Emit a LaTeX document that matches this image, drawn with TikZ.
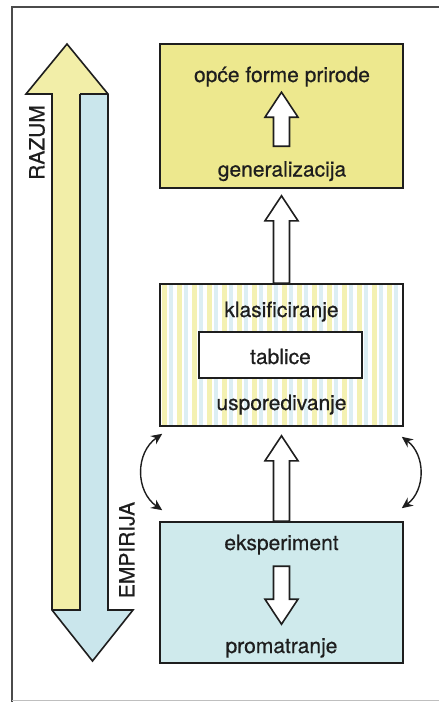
\documentclass[tikz,border=0pt]{standalone}
\usepackage{fontspec}
\setmainfont{TeX Gyre Heros}
\newfontfamily\lblfont{TeX Gyre Heros}[FakeBold=0.6]
\usetikzlibrary{calc,arrows.meta}
\definecolor{topY}{RGB}{237,232,142}
\definecolor{arrY}{RGB}{242,238,168}
\definecolor{colB}{RGB}{202,230,236}
\definecolor{botB}{RGB}{207,234,236}
\definecolor{strY}{RGB}{244,241,178}
\definecolor{strB}{RGB}{220,238,243}
\definecolor{ink}{RGB}{30,30,30}
\newcommand\blockarrow[2]{%
  \path (#1) coordinate (ba-b) (#2) coordinate (ba-t);
  \path ($(ba-t)!25pt!(ba-b)$) coordinate (ba-h);
  \draw[hollow] ($(ba-b)!8pt!90:(ba-t)$) -- ($(ba-h)!8pt!90:(ba-t)$)
    -- ($(ba-h)!16.5pt!90:(ba-t)$) -- (ba-t) -- ($(ba-h)!16.5pt!-90:(ba-t)$)
    -- ($(ba-h)!8pt!-90:(ba-t)$) -- ($(ba-b)!8pt!-90:(ba-t)$) -- cycle;}
\begin{document}
\begin{tikzpicture}[x=1pt,y=-1pt,
  box/.style={draw=ink,line width=1.6pt,minimum width=243pt,inner sep=0pt},
  lbl/.style={text=ink,font=\lblfont\fontsize{21}{24}\selectfont,inner sep=0pt},
  hollow/.style={draw=ink,fill=white,line width=1.6pt,line join=miter},
  bigarrow/.style={draw=ink,line width=1.6pt,line join=miter},
  dbl/.style={draw=ink,line width=1.4pt,{Stealth[length=11pt,width=10pt]}-{Stealth[length=11pt,width=10pt]}}]
\useasboundingbox (0,0) rectangle (439,702);
\fill[white] (0,0) rectangle (439,702);
% frame
\draw[line width=1.2pt,ink!80] (12,702) -- (12,7) -- (439,7);
\draw[line width=0.8pt,black!25] (12,700) -- (439,700);
% big left double arrow
\fill[arrY] (67,44) -- (108,94) -- (80,94) -- (80,610) -- (52,610) -- (52,94) -- (26,94) -- cycle;
\fill[colB] (80,94) -- (108,94) -- (108,610) -- (133,610) -- (92.5,661) -- (52,610) -- (80,610) -- cycle;
\draw[bigarrow] (67,44) -- (108,94) -- (108,610) -- (133,610) -- (92.5,661) -- (52,610) -- (52,94) -- (26,94) -- cycle;
\draw[bigarrow] (80,94) -- (80,610) -- (52,610);
\draw[bigarrow] (80,94) -- (108,94);
\node[lbl,rotate=90] (razum) at (37,142.5) {RAZUM};
\node[lbl,rotate=90] (empirija) at (127,550) {EMPIRIJA};
% boxes
\node[box,fill=topY,minimum height=144pt] (top) at (281.5,116) {};
\node[box,fill=white,minimum height=142pt,
  path picture={\foreach \i in {0,...,16}{
     \fill[strY] ([xshift=\i*15pt+2pt]path picture bounding box.north west) rectangle ++(5,150);
     \fill[strB] ([xshift=\i*15pt+9pt]path picture bounding box.north west) rectangle ++(4,150);}}]
  (mid) at (281.5,355) {};
\node[box,fill=botB,minimum height=141pt] (bot) at (281.5,592.5) {};
\node[draw=ink,line width=1.6pt,fill=white,minimum width=163pt,minimum height=46pt,inner sep=0pt] (tab) at (280.5,355) {};
% labels
\node[lbl,anchor=base] (opce) at (282,82) {opće forme prirode};
\node[lbl,anchor=base] (gen) at (282,176.5) {generalizacija};
\node[lbl,anchor=base] (klas) at (281.5,317) {klasificiranje};
\node[lbl,anchor=base] (tabl) at (280.5,364) {tablice};
\node[lbl,anchor=base] (uspo) at (281.5,410) {usporedivanje};
\node[lbl,anchor=base] (eksp) at (281.5,550) {eksperiment};
\node[lbl,anchor=base] (prom) at (281.5,653) {promatranje};
% block arrows
\blockarrow{$(top.north)+(0,103)$}{$(top.north)+(0,49)$}
\blockarrow{mid.north}{$(top.south)+(0,7)$}
\blockarrow{bot.north}{$(mid.south)+(0,9)$}
\blockarrow{$(bot.north)+(0,45)$}{$(bot.north)+(0,103)$}
% curved double arrows
\coordinate (la) at ($(mid.south west)+(3,7)$);
\coordinate (lb) at ($(bot.north west)+(3,-11)$);
\coordinate (ra) at ($(mid.south east)+(-2,10)$);
\coordinate (rb) at ($(bot.north east)+(-2,-13)$);
\draw[dbl] (la) .. controls +(-27,19) and +(-27,-19) .. (lb);
\draw[dbl] (ra) .. controls +(24,18) and +(24,-18) .. (rb);
\end{tikzpicture}
\end{document}
